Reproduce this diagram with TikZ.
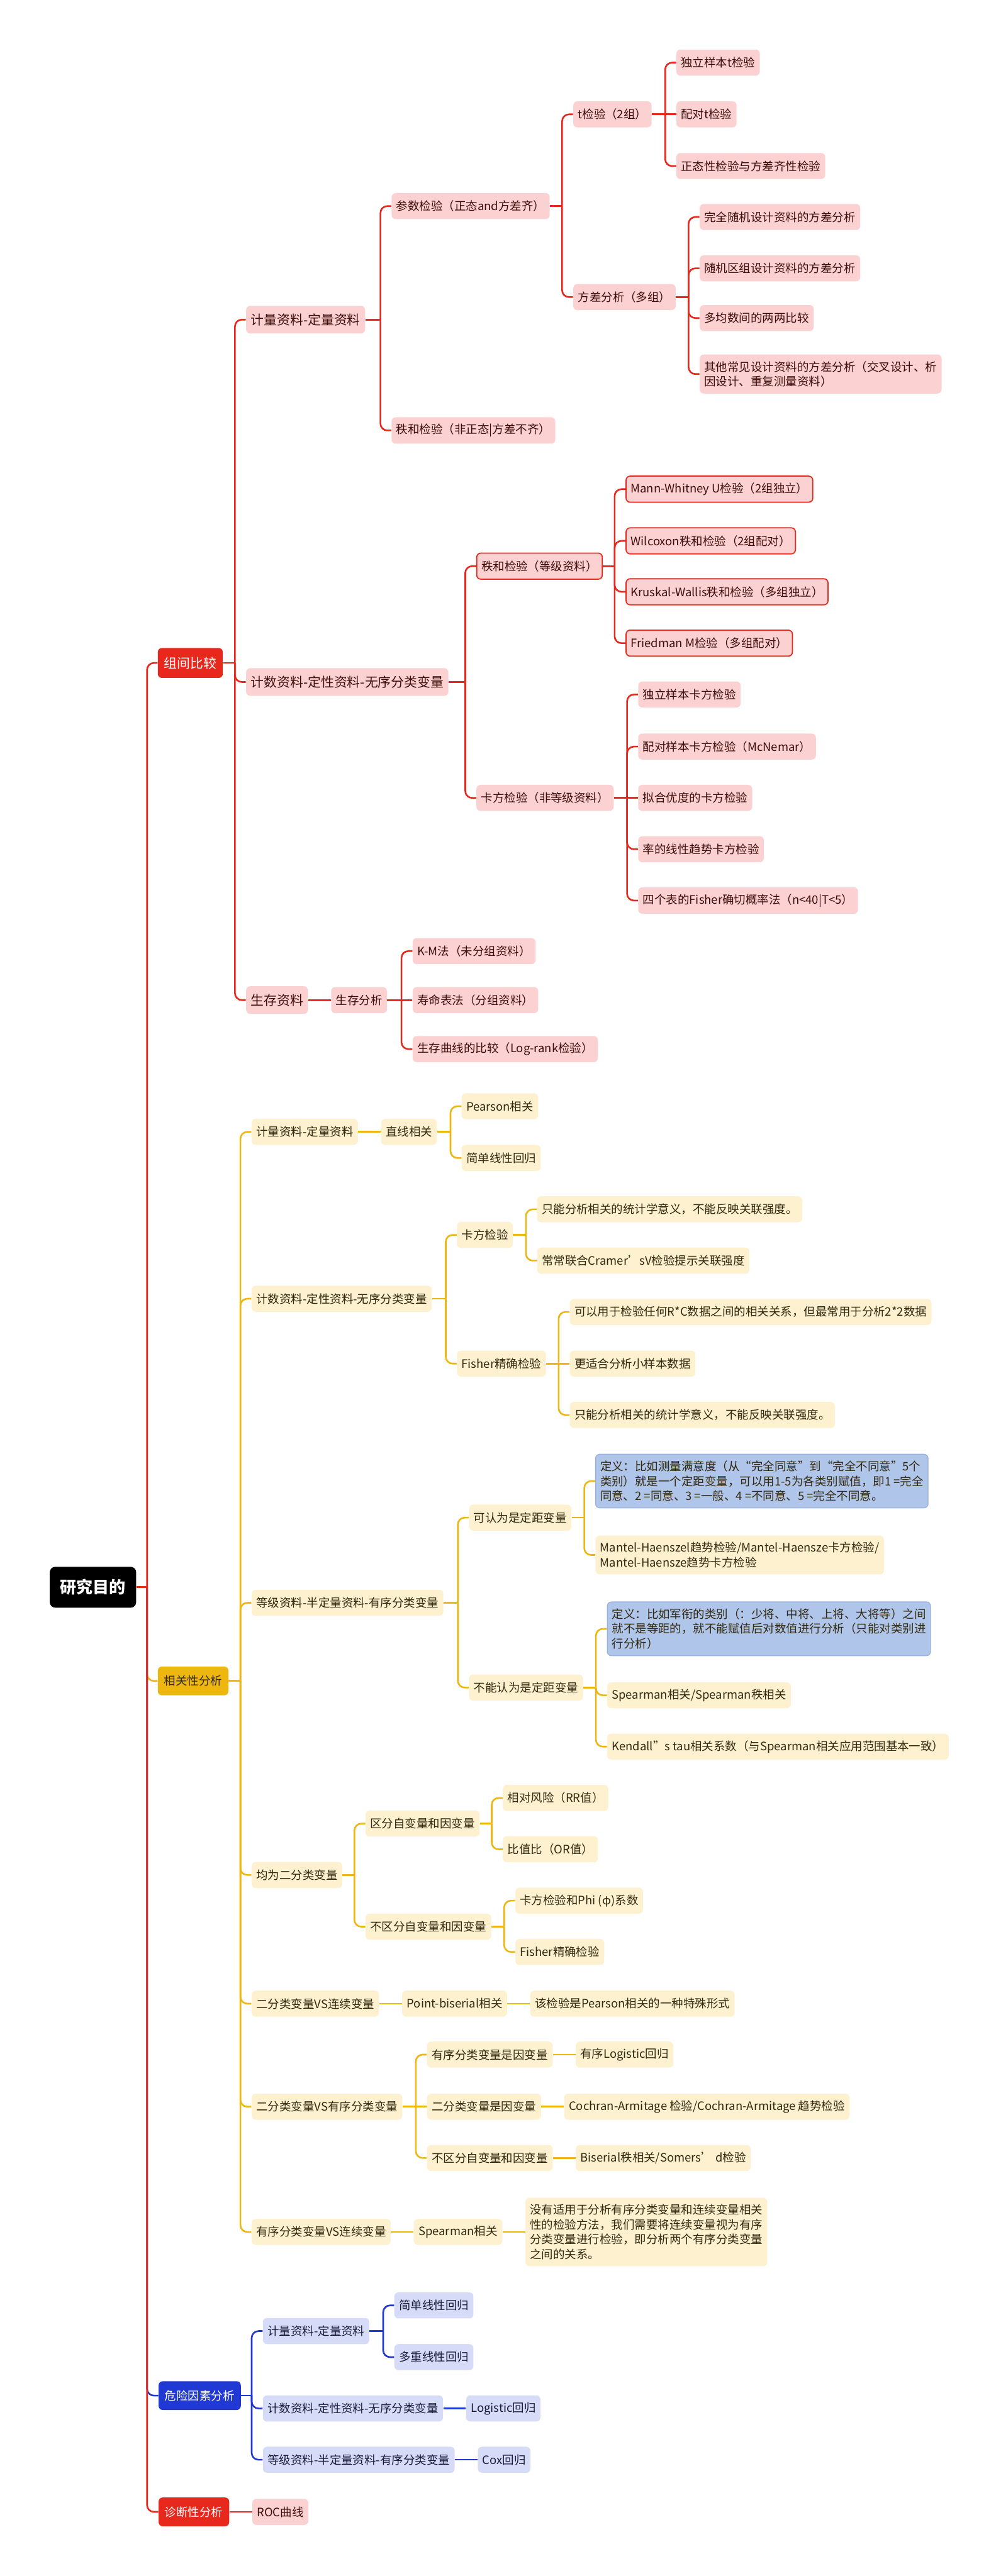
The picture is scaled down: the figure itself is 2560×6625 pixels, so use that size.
\documentclass[tikz,border=0pt]{standalone}
\usepackage{fontspec}
\setmainfont{Noto Sans CJK SC}
\usepackage{xcolor}
\usepackage{tikz}
\usetikzlibrary{positioning,calc}
\definecolor{redm}{HTML}{E8281D}
\definecolor{redl}{HTML}{FBD2D1}
\definecolor{redt}{HTML}{3E0D09}
\definecolor{yelm}{HTML}{EDB70F}
\definecolor{yell}{HTML}{FDF1D0}
\definecolor{yelt}{HTML}{33290F}
\definecolor{blum}{HTML}{2139D4}
\definecolor{blul}{HTML}{D6DCF8}
\definecolor{blut}{HTML}{181B3A}
\definecolor{defb}{HTML}{AFC5EA}
\definecolor{defd}{HTML}{9AB2DD}

\begin{document}
\begin{tikzpicture}[x=0.01cm,y=-0.01cm,font=\fontsize{8.5}{10.8}\selectfont,node distance=5.8mm]
\tikzstyle{b}=[rounded corners=3pt,inner xsep=1.2mm,inner ysep=1.7mm,minimum height=6.7mm,align=left,anchor=west]
\tikzstyle{rn}=[b,fill=redl,text=redt]
\tikzstyle{rb}=[rn,minimum height=7.1mm,font=\fontsize{9.6}{11.5}\selectfont]
\tikzstyle{rk}=[rn,draw=redm,line width=0.8pt]
\tikzstyle{yn}=[b,fill=yell,text=yelt]
\tikzstyle{dn}=[b,fill=defb,draw=defd,line width=0.6pt,text=yelt]
\tikzstyle{bn}=[b,fill=blul,text=blut]
\tikzstyle{lv}=[b,minimum height=7.4mm,inner xsep=1.6mm,text=white]
\tikzstyle{rootn}=[rounded corners=4pt,fill=black,text=white,minimum width=22.2mm,minimum height=10.5mm,font=\fontsize{12}{14}\selectfont\bfseries]
\tikzstyle{rl}=[draw=redm,line width=1.2pt,rounded corners=5pt]
\tikzstyle{yl}=[rl,draw=yelm]
\tikzstyle{bl}=[rl,draw=blum]
\useasboundingbox (0,0) rectangle (2560,6625);

\node[rootn] (root) at (239,4082) {研究目的};
\node[lv,fill=redm,minimum height=7.7mm,font=\fontsize{9.6}{11.5}\selectfont] (cmp) at (405,1705) {组间比较};
\node[lv,fill=yelm,text=yelt] (cor) at (405,4323) {相关性分析};
\node[lv,fill=blum] (risk) at (407,6161) {危险因素分析};
\node[lv,fill=redm] (diag) at (407,6460) {诊断性分析};

% 组间比较
\node[rb] (cq) at (632,822) {计量资料-定量资料};
\node[rb] (cc) at (632,1754) {计数资料-定性资料-无序分类变量};
\node[rb] (cs) at (632,2572) {生存资料};
\node[rn] (par) at (1006,530) {参数检验（正态and方差齐）};
\node[rn] (npar) at (1006,1107) {秩和检验（非正态|方差不齐）};
\node[rn] (tt) at (1473,294) {t检验（2组）};
\node[rn] (anv) at (1473,764) {方差分析（多组）};
\node[rn] (tt1) at (1738,161) {独立样本t检验};
\node[rn] (tt2) at (1738,294) {配对t检验};
\node[rn] (tt3) at (1738,427) {正态性检验与方差齐性检验};
\node[rn] (av1) at (1798,558) {完全随机设计资料的方差分析};
\node[rn] (av2) at (1798,690) {随机区组设计资料的方差分析};
\node[rn] (av3) at (1798,818) {多均数间的两两比较};
\node[rn] (av4) at (1798,962) {其他常见设计资料的方差分析（交叉设计、析\\因设计、重复测量资料）};
\node[rk] (rk) at (1224,1456) {秩和检验（等级资料）};
\node[rk] (rk1) at (1608,1258) {Mann-Whitney U检验（2组独立）};
\node[rk] (rk2) at (1608,1391) {Wilcoxon秩和检验（2组配对）};
\node[rk] (rk3) at (1608,1522) {Kruskal-Wallis秩和检验（多组独立）};
\node[rk] (rk4) at (1608,1654) {Friedman M检验（多组配对）};
\node[rn] (chi) at (1224,2052) {卡方检验（非等级资料）};
\node[rn] (ch1) at (1640,1786) {独立样本卡方检验};
\node[rn] (ch2) at (1640,1920) {配对样本卡方检验（McNemar）};
\node[rn] (ch3) at (1640,2052) {拟合优度的卡方检验};
\node[rn] (ch4) at (1640,2184) {率的线性趋势卡方检验};
\node[rn] (ch5) at (1640,2316) {四个表的Fisher确切概率法（n<40|T<5）};
\node[rn,right=of cs] (sv) {生存分析};
\node[rn] (sv1) at (1060,2446) {K-M法（未分组资料）};
\node[rn] (sv2) at (1060,2572) {寿命表法（分组资料）};
\node[rn] (sv3) at (1060,2698) {生存曲线的比较（Log-rank检验）};

% 相关性分析
\node[yn] (yq) at (646,2911) {计量资料-定量资料};
\node[yn,right=of yq] (yqa) {直线相关};
\node[yn] (yqa1) at (1186,2845) {Pearson相关};
\node[yn] (yqa2) at (1186,2978) {简单线性回归};
\node[yn] (yc) at (646,3340) {计数资料-定性资料-无序分类变量};
\node[yn] (ychi) at (1174,3176) {卡方检验};
\node[yn] (ychi1) at (1380,3110) {只能分析相关的统计学意义，不能反映关联强度。};
\node[yn] (ychi2) at (1380,3242) {常常联合Cramer'sV检验提示关联强度};
\node[yn] (yfi) at (1174,3507) {Fisher精确检验};
\node[yn] (yfi1) at (1464,3374) {可以用于检验任何R*C数据之间的相关关系，但最常用于分析2*2数据};
\node[yn] (yfi2) at (1464,3507) {更适合分析小样本数据};
\node[yn] (yfi3) at (1464,3639) {只能分析相关的统计学意义，不能反映关联强度。};
\node[yn] (yo) at (646,4122) {等级资料-半定量资料-有序分类变量};
\node[yn] (yo1) at (1205,3903) {可认为是定距变量};
\node[dn] (yo1a) at (1530,3809) {定义：比如测量满意度（从“完全同意”到“完全不同意”5个\\类别）就是一个定距变量，可以用1-5为各类别赋值，即1 =完全\\同意、2 =同意、3 =一般、4 =不同意、5 =完全不同意。};
\node[yn] (yo1b) at (1530,3999) {Mantel-Haenszel趋势检验/Mantel-Haensze卡方检验/\\Mantel-Haensze趋势卡方检验};
\node[yn] (yo2) at (1205,4340) {不能认为是定距变量};
\node[dn] (yo2a) at (1560,4189) {定义：比如军衔的类别（：少将、中将、上将、大将等）之间\\就不是等距的，就不能赋值后对数值进行分析（只能对类别进\\行分析）};
\node[yn] (yo2b) at (1560,4360) {Spearman相关/Spearman秩相关};
\node[yn] (yo2c) at (1560,4492) {Kendall"s tau相关系数（与Spearman相关应用范围基本一致）};
\node[yn] (yb) at (646,4822) {均为二分类变量};
\node[yn] (yb1) at (939,4690) {区分自变量和因变量};
\node[yn] (yb1a) at (1292,4624) {相对风险（RR值）};
\node[yn] (yb1b) at (1292,4756) {比值比（OR值）};
\node[yn] (yb2) at (939,4955) {不区分自变量和因变量};
\node[yn] (yb2a) at (1324,4888) {卡方检验和Phi (φ)系数};
\node[yn] (yb2b) at (1324,5020) {Fisher精确检验};
\node[yn] (ybc) at (646,5153) {二分类变量VS连续变量};
\node[yn,right=of ybc] (ybc1) {Point-biserial相关};
\node[yn,right=of ybc1] (ybc2) {该检验是Pearson相关的一种特殊形式};
\node[yn] (ybo) at (646,5418) {二分类变量VS有序分类变量};
\node[yn] (ybo1) at (1097,5284) {有序分类变量是因变量};
\node[yn,right=of ybo1] (ybo1a) {有序Logistic回归};
\node[yn] (ybo2) at (1097,5418) {二分类变量是因变量};
\node[yn,right=of ybo2] (ybo2a) {Cochran-Armitage 检验/Cochran-Armitage 趋势检验};
\node[yn] (ybo3) at (1097,5550) {不区分自变量和因变量};
\node[yn,right=of ybo3] (ybo3a) {Biserial秩相关/Somers' d检验};
\node[yn] (yoc) at (646,5740) {有序分类变量VS连续变量};
\node[yn,right=of yoc] (yoc1) {Spearman相关};
\node[yn,right=of yoc1] (yoc2) {没有适用于分析有序分类变量和连续变量相关\\性的检验方法，我们需要将连续变量视为有序\\分类变量进行检验，即分析两个有序分类变量\\之间的关系。};

% 危险因素分析
\node[bn] (bq) at (675,5995) {计量资料-定量资料};
\node[bn] (bq1) at (1013,5929) {简单线性回归};
\node[bn] (bq2) at (1013,6062) {多重线性回归};
\node[bn] (bc) at (675,6194) {计数资料-定性资料-无序分类变量};
\node[bn,right=of bc] (bc1) {Logistic回归};
\node[bn] (bo) at (675,6326) {等级资料-半定量资料-有序分类变量};
\node[bn,right=of bo] (bo1) {Cox回归};

% 诊断性分析
\node[rn,right=of diag] (roc) {ROC曲线};

% connectors
\draw[rl] (root.east) -- ($(root.east-|cmp.west)+(-27,0)$) coordinate (j0);
\draw[yl] (j0) |- (cor.west);
\draw[bl] (j0) |- (risk.west);
\foreach \nd in {cmp,diag} \draw[rl] (j0) |- (\nd.west);

\draw[rl] (cmp.east) -- ($(cmp.east-|cq.west)+(-28,0)$) coordinate (jcmp);
\foreach \nd in {cq,cc,cs} \draw[rl] (jcmp) |- (\nd.west);
\draw[rl] (cq.east) -- ($(cq.east-|par.west)+(-28,0)$) coordinate (jcq);
\foreach \nd in {par,npar} \draw[rl] (jcq) |- (\nd.west);
\draw[rl] (par.east) -- ($(par.east-|tt.west)+(-28,0)$) coordinate (jpar);
\foreach \nd in {tt,anv} \draw[rl] (jpar) |- (\nd.west);
\draw[rl] (tt.east) -- (tt2.west);
\foreach \nd in {tt1,tt3} \draw[rl] ($(tt.east-|tt1.west)+(-28,0)$) |- (\nd.west);
\draw[rl] (anv.east) -- ($(anv.east-|av1.west)+(-28,0)$) coordinate (janv);
\foreach \nd in {av1,av2,av3,av4} \draw[rl] (janv) |- (\nd.west);
\draw[rl] (cc.east) -- ($(cc.east-|rk.west)+(-28,0)$) coordinate (jcc);
\foreach \nd in {rk,chi} \draw[rl] (jcc) |- (\nd.west);
\draw[rl] (rk.east) -- ($(rk.east-|rk1.west)+(-28,0)$) coordinate (jrk);
\foreach \nd in {rk1,rk2,rk3,rk4} \draw[rl] (jrk) |- (\nd.west);
\draw[rl] (chi.east) -- (ch3.west);
\foreach \nd in {ch1,ch2,ch4,ch5} \draw[rl] ($(chi.east-|ch1.west)+(-28,0)$) |- (\nd.west);
\draw[rl] (cs.east) -- (sv.west);
\draw[rl] (sv.east) -- (sv2.west);
\foreach \nd in {sv1,sv3} \draw[rl] ($(sv.east-|sv1.west)+(-28,0)$) |- (\nd.west);
\draw[rl] (diag.east) -- (roc.west);

\draw[yl] (cor.east) -- ($(cor.east-|yq.west)+(-28,0)$) coordinate (jcor);
\foreach \nd in {yq,yc,yo,yb,ybc,ybo,yoc} \draw[yl] (jcor) |- (\nd.west);
\draw[yl] (yq.east) -- (yqa.west);
\draw[yl] (yqa.east) -- ($(yqa.east-|yqa1.west)+(-28,0)$) coordinate (jyqa);
\foreach \nd in {yqa1,yqa2} \draw[yl] (jyqa) |- (\nd.west);
\draw[yl] (yc.east) -- ($(yc.east-|ychi.west)+(-28,0)$) coordinate (jyc);
\foreach \nd in {ychi,yfi} \draw[yl] (jyc) |- (\nd.west);
\draw[yl] (ychi.east) -- ($(ychi.east-|ychi1.west)+(-28,0)$) coordinate (jychi);
\foreach \nd in {ychi1,ychi2} \draw[yl] (jychi) |- (\nd.west);
\draw[yl] (yfi.east) -- (yfi2.west);
\foreach \nd in {yfi1,yfi3} \draw[yl] ($(yfi.east-|yfi1.west)+(-28,0)$) |- (\nd.west);
\draw[yl] (yo.east) -- ($(yo.east-|yo1.west)+(-28,0)$) coordinate (jyo);
\foreach \nd in {yo1,yo2} \draw[yl] (jyo) |- (\nd.west);
\draw[yl] (yo1.east) -- ($(yo1.east-|yo1a.west)+(-28,0)$) coordinate (jyo1);
\foreach \nd in {yo1a,yo1b} \draw[yl] (jyo1) |- (\nd.west);
\draw[yl] (yo2.east) -- ($(yo2.east-|yo2a.west)+(-28,0)$) coordinate (jyo2);
\foreach \nd in {yo2a,yo2b,yo2c} \draw[yl] (jyo2) |- (\nd.west);
\draw[yl] (yb.east) -- ($(yb.east-|yb1.west)+(-28,0)$) coordinate (jyb);
\foreach \nd in {yb1,yb2} \draw[yl] (jyb) |- (\nd.west);
\draw[yl] (yb1.east) -- ($(yb1.east-|yb1a.west)+(-28,0)$) coordinate (jyb1);
\foreach \nd in {yb1a,yb1b} \draw[yl] (jyb1) |- (\nd.west);
\draw[yl] (yb2.east) -- ($(yb2.east-|yb2a.west)+(-28,0)$) coordinate (jyb2);
\foreach \nd in {yb2a,yb2b} \draw[yl] (jyb2) |- (\nd.west);
\draw[yl] (ybc.east) -- (ybc1.west);
\draw[yl] (ybc1.east) -- (ybc2.west);
\draw[yl] (ybo.east) -- (ybo2.west);
\foreach \nd in {ybo1,ybo3} \draw[yl] ($(ybo.east-|ybo1.west)+(-28,0)$) |- (\nd.west);
\draw[yl] (ybo1.east) -- (ybo1a.west);
\draw[yl] (ybo2.east) -- (ybo2a.west);
\draw[yl] (ybo3.east) -- (ybo3a.west);
\draw[yl] (yoc.east) -- (yoc1.west);
\draw[yl] (yoc1.east) -- (yoc2.west);

\draw[bl] (risk.east) -- ($(risk.east-|bq.west)+(-28,0)$) coordinate (jrisk);
\foreach \nd in {bq,bc,bo} \draw[bl] (jrisk) |- (\nd.west);
\draw[bl] (bq.east) -- ($(bq.east-|bq1.west)+(-28,0)$) coordinate (jbq);
\foreach \nd in {bq1,bq2} \draw[bl] (jbq) |- (\nd.west);
\draw[bl] (bc.east) -- (bc1.west);
\draw[bl] (bo.east) -- (bo1.west);
\end{tikzpicture}
\end{document}
